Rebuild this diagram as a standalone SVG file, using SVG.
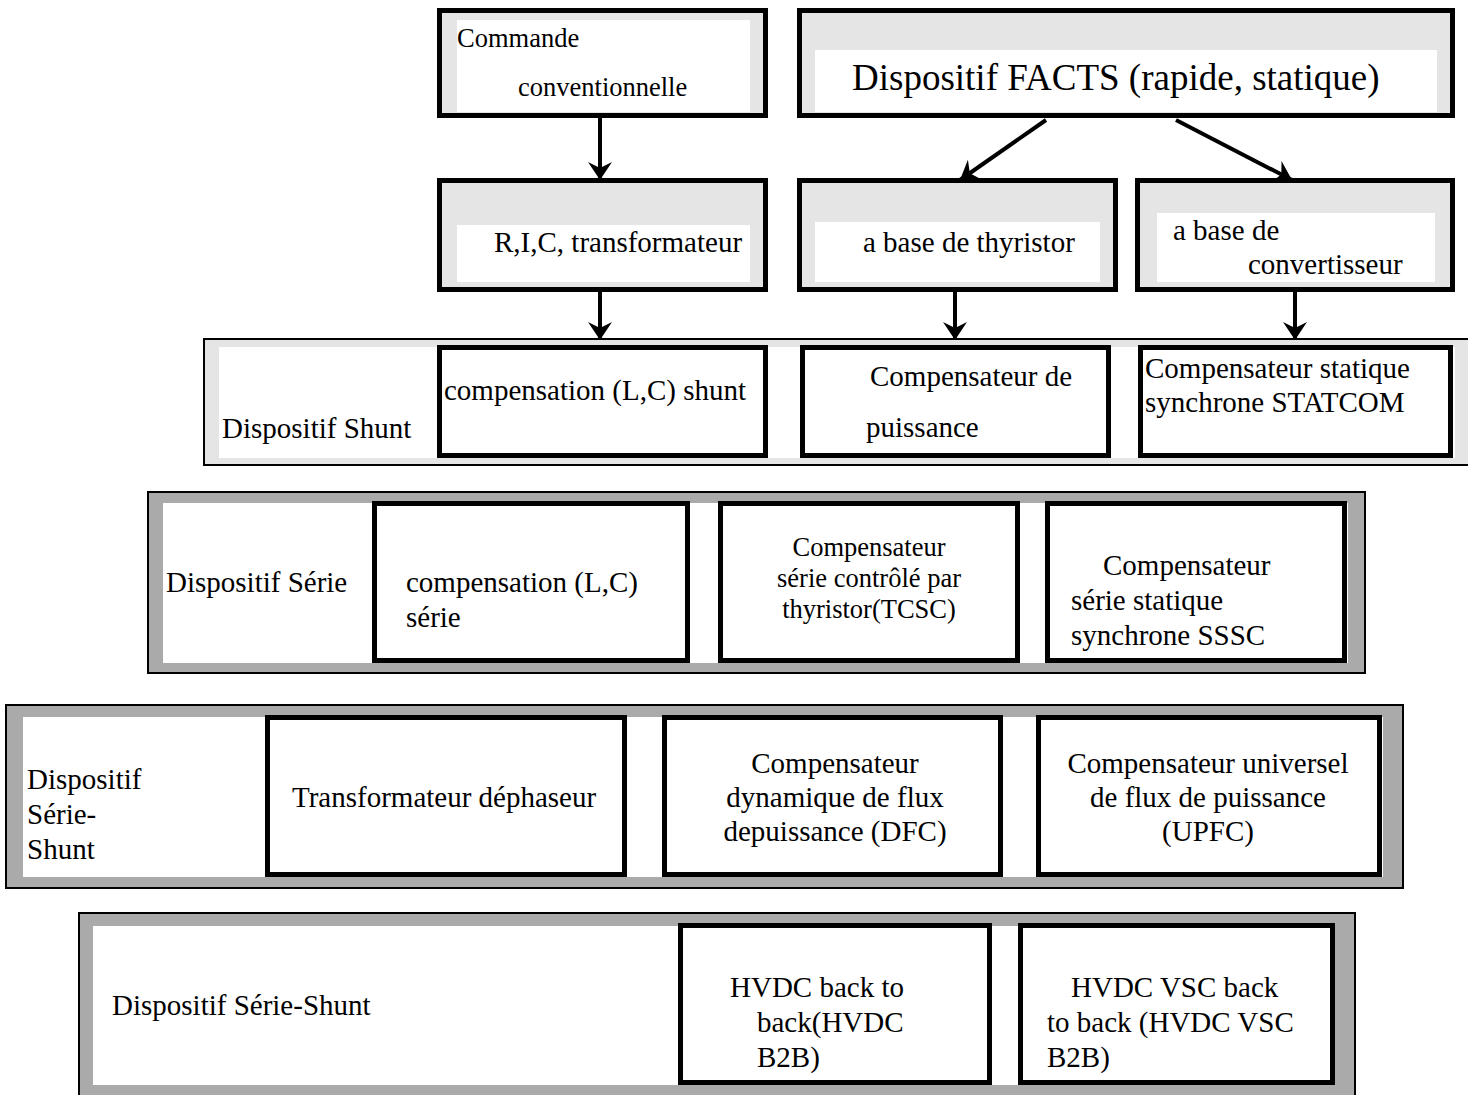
<svg xmlns="http://www.w3.org/2000/svg" width="1468" height="1095" viewBox="0 0 1468 1095">
  <style>
    text { font-family: "Liberation Serif", "Times New Roman", serif; font-size: 29px; fill: #000; }
    .small { font-size: 26.5px; }
    .big { font-size: 37px; }
    .mid { text-anchor: middle; }
    .box { fill: #fff; stroke: #000; stroke-width: 5; }
    .head { fill: #e5e5e5; stroke: #000; stroke-width: 5; }
    .pane { fill: #fff; }
    .frame-light { fill: #e5e5e5; stroke: #000; stroke-width: 2; }
    .frame-dark { fill: #aaaaaa; stroke: #000; stroke-width: 2; }
    .link { stroke: #000; stroke-width: 4; fill: none; marker-end: url(#arrow); }
  </style>
  <defs>
    <marker id="arrow" markerUnits="userSpaceOnUse" markerWidth="26" markerHeight="26" refX="18" refY="12" orient="auto">
      <path d="M0,0 L18,12 L0,24 L6,12 Z" fill="#000"/>
    </marker>
  </defs>

  <rect width="1468" height="1095" fill="#fff"/>

  <!-- top level -->
  <g id="commande">
    <rect class="head" x="439.5" y="10.5" width="326" height="105"/>
    <rect class="pane" x="457" y="20" width="293" height="92"/>
    <text class="small" x="457" y="47">Commande</text>
    <text class="small" x="518" y="96">conventionnelle</text>
  </g>
  <g id="facts">
    <rect class="head" x="799.5" y="10.5" width="653" height="105"/>
    <rect class="pane" x="815" y="50" width="622" height="62"/>
    <text class="big" x="852" y="90">Dispositif FACTS (rapide, statique)</text>
  </g>

  <!-- technology level -->
  <g id="ric">
    <rect class="head" x="439.5" y="180.5" width="326" height="109"/>
    <rect class="pane" x="457" y="225" width="293" height="57"/>
    <text x="494" y="252">R,I,C, transformateur</text>
  </g>
  <g id="thyristor">
    <rect class="head" x="799.5" y="180.5" width="316" height="109"/>
    <rect class="pane" x="815" y="222" width="285" height="60"/>
    <text x="863" y="252">a base de thyristor</text>
  </g>
  <g id="convertisseur">
    <rect class="head" x="1137.5" y="180.5" width="315" height="109"/>
    <rect class="pane" x="1157" y="213" width="278" height="69"/>
    <text x="1173" y="240">a base de</text>
    <text x="1248" y="274">convertisseur</text>
  </g>

  <!-- shunt row -->
  <g id="shunt">
    <rect class="frame-light" x="204" y="339" width="1265" height="126"/>
    <rect class="pane" x="219" y="347" width="1236" height="111"/>
    <text x="222" y="438">Dispositif Shunt</text>
  </g>
  <g id="shunt-lc">
    <rect class="box" x="439.5" y="347.5" width="326" height="108"/>
    <text x="444" y="400">compensation (L,C) shunt</text>
  </g>
  <g id="shunt-svc">
    <rect class="box" x="802.5" y="347.5" width="306" height="108"/>
    <text x="870" y="386">Compensateur de</text>
    <text x="866" y="437">puissance</text>
  </g>
  <g id="shunt-statcom">
    <rect class="box" x="1140.5" y="347.5" width="310" height="108"/>
    <text x="1145" y="378">Compensateur statique</text>
    <text x="1145" y="412">synchrone STATCOM</text>
  </g>

  <!-- series row -->
  <g id="serie">
    <rect class="frame-dark" x="148" y="492" width="1217" height="181"/>
    <rect class="pane" x="163" y="503" width="1185" height="160"/>
    <text x="166" y="592">Dispositif Série</text>
  </g>
  <g id="serie-lc">
    <rect class="box" x="374.5" y="503.5" width="313" height="157"/>
    <text x="406" y="592">compensation (L,C)</text>
    <text x="406" y="627">série</text>
  </g>
  <g id="serie-tcsc">
    <rect class="box" x="720.5" y="503.5" width="297" height="157"/>
    <text class="small mid" x="869" y="556">Compensateur</text>
    <text class="small mid" x="869" y="587">série contrôlé par</text>
    <text class="small mid" x="869" y="618">thyristor(TCSC)</text>
  </g>
  <g id="serie-sssc">
    <rect class="box" x="1047.5" y="503.5" width="297" height="157"/>
    <text x="1103" y="575">Compensateur</text>
    <text x="1071" y="610">série statique</text>
    <text x="1071" y="645">synchrone SSSC</text>
  </g>

  <!-- series-shunt row -->
  <g id="serie-shunt">
    <rect class="frame-dark" x="6" y="705" width="1397" height="183"/>
    <rect class="pane" x="23" y="717" width="1360" height="160"/>
    <text x="27" y="789">Dispositif</text>
    <text x="27" y="824">Série-</text>
    <text x="27" y="859">Shunt</text>
  </g>
  <g id="dephaseur">
    <rect class="box" x="267.5" y="717.5" width="357" height="157"/>
    <text x="292" y="807">Transformateur déphaseur</text>
  </g>
  <g id="dfc">
    <rect class="box" x="664.5" y="717.5" width="336" height="157"/>
    <text class="mid" x="835" y="773">Compensateur</text>
    <text class="mid" x="835" y="807">dynamique de flux</text>
    <text class="mid" x="835" y="841">depuissance (DFC)</text>
  </g>
  <g id="upfc">
    <rect class="box" x="1038.5" y="717.5" width="341" height="157"/>
    <text class="mid" x="1208" y="773">Compensateur universel</text>
    <text class="mid" x="1208" y="807">de flux de puissance</text>
    <text class="mid" x="1208" y="841">(UPFC)</text>
  </g>

  <!-- HVDC row -->
  <g id="hvdc">
    <rect class="frame-dark" x="79" y="913" width="1276" height="190"/>
    <rect class="pane" x="93" y="926" width="1242" height="159"/>
    <text x="112" y="1015">Dispositif Série-Shunt</text>
  </g>
  <g id="hvdc-b2b">
    <rect class="box" x="680.5" y="925.5" width="309" height="157"/>
    <text x="730" y="997">HVDC back to</text>
    <text x="757" y="1032">back(HVDC</text>
    <text x="757" y="1067">B2B)</text>
  </g>
  <g id="hvdc-vsc">
    <rect class="box" x="1020.5" y="925.5" width="312" height="157"/>
    <text x="1071" y="997">HVDC VSC back</text>
    <text x="1047" y="1032">to back (HVDC VSC</text>
    <text x="1047" y="1067">B2B)</text>
  </g>

  <!-- connectors -->
  <g id="connectors">
    <line class="link" x1="600" y1="118" x2="600" y2="180"/>
    <line class="link" x1="1046" y1="120" x2="960" y2="180"/>
    <line class="link" x1="1176" y1="120" x2="1292" y2="180"/>
    <line class="link" x1="600" y1="292" x2="600" y2="340"/>
    <line class="link" x1="955" y1="292" x2="955" y2="340"/>
    <line class="link" x1="1295" y1="292" x2="1295" y2="340"/>
  </g>
</svg>
